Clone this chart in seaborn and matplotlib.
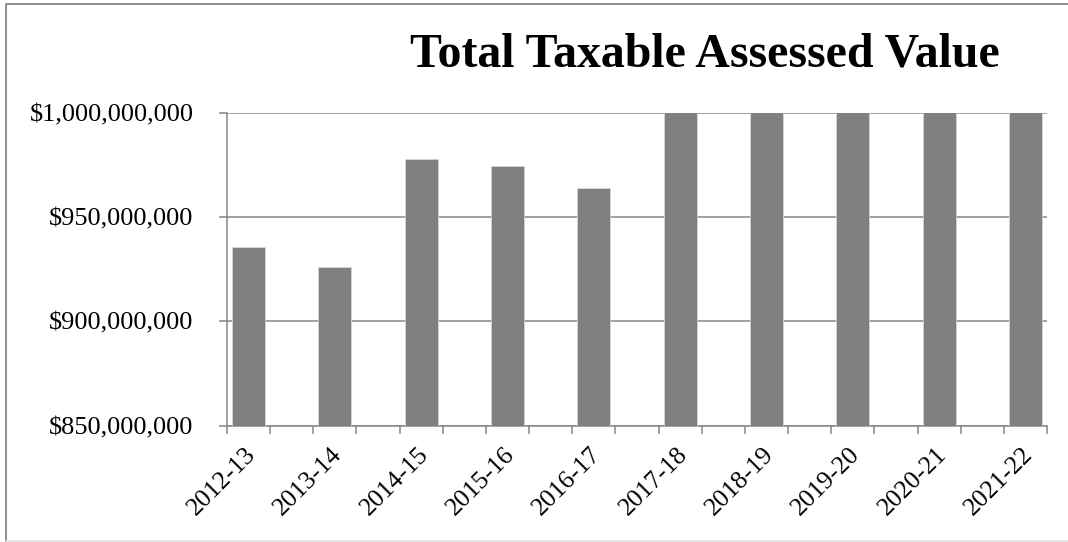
import matplotlib
matplotlib.use("Agg")
import matplotlib.pyplot as plt
from matplotlib.ticker import FuncFormatter, FixedLocator
from matplotlib.lines import Line2D
from matplotlib.transforms import ScaledTranslation
import seaborn as sns
import pandas as pd

# Fiscal years and total taxable assessed value (USD)
years = ["2012-13", "2013-14", "2014-15", "2015-16", "2016-17",
         "2017-18", "2018-19", "2019-20", "2020-21", "2021-22"]
values = [935_600_000, 926_200_000, 977_700_000, 974_700_000, 964_100_000,
          1_018_000_000, 1_045_000_000, 1_078_000_000, 1_115_000_000, 1_160_000_000]
y_ticks = [850_000_000, 900_000_000, 950_000_000, 1_000_000_000]

df = pd.DataFrame({"year": years, "value": values})

sns.set_style("white")
plt.rcParams["font.family"] = ["Liberation Serif", "DejaVu Serif"]
plt.rcParams["text.color"] = "black"
plt.rcParams["xtick.color"] = "black"
plt.rcParams["ytick.color"] = "black"

GRAY = "#868686"

fig = plt.figure(figsize=(10.68, 5.42), dpi=100)
ax = fig.add_axes([227 / 1068, 1 - 425.5 / 542, 820 / 1068, 312.5 / 542])

sns.barplot(data=df, x="year", y="value", color="#808080", saturation=1,
            width=0.38, ax=ax, zorder=3)
for bar in ax.patches:
    bar.set_edgecolor("#d9d9d9")
    bar.set_linewidth(0.5)

n = len(years)
ax.set_ylim(y_ticks[0], y_ticks[-1])
ax.set_xlim(-0.25, n - 0.75)
ax.set_yticks(y_ticks)
ax.yaxis.set_major_formatter(FuncFormatter(lambda v, _: f"${v:,.0f}"))
ax.grid(axis="y", color=GRAY, linewidth=1.1, zorder=0)
ax.set_axisbelow(True)

# tick marks every half category, labels at category centres
ax.xaxis.set_minor_locator(FixedLocator([-0.25 + 0.5 * i for i in range(2 * n)]))
ax.tick_params(axis="x", which="major", bottom=True, length=0, pad=13, labelsize=18.5)
ax.tick_params(axis="x", which="minor", bottom=True, length=6, width=1.1,
               color=GRAY, direction="out")
ax.tick_params(axis="y", left=True, length=6, width=1.1, color=GRAY, direction="out",
               labelsize=19, labelcolor="black", pad=18)
shift = ScaledTranslation(-4 / 100, 0, fig.dpi_scale_trans)
for lbl in ax.get_xticklabels():
    lbl.set_rotation(45)
    lbl.set_ha("right")
    lbl.set_va("top")
    lbl.set_rotation_mode("anchor")
    lbl.set_color("black")
    lbl.set_transform(lbl.get_transform() + shift)

for side in ["top", "right"]:
    ax.spines[side].set_visible(False)
for side in ["left", "bottom"]:
    ax.spines[side].set_color(GRAY)
    ax.spines[side].set_linewidth(1.1)

ax.set_xlabel("")
ax.set_ylabel("")

fig.text(0.66, 1 - 66.7 / 542, "Total Taxable Assessed Value", ha="center",
         va="baseline", fontsize=34.5, fontweight="bold", color="black")

# chart area border
fig.lines.append(Line2D([6 / 1068, 6 / 1068, 1.0], [0.0, 1 - 4 / 542, 1 - 4 / 542],
                        transform=fig.transFigure, color="#8c8c8c", linewidth=1.4))
fig.lines.append(Line2D([6 / 1068, 1.0], [1 / 542, 1 / 542],
                        transform=fig.transFigure, color="#e0e0e0", linewidth=1.2))

fig.savefig("out.png", dpi=100, facecolor="white")
